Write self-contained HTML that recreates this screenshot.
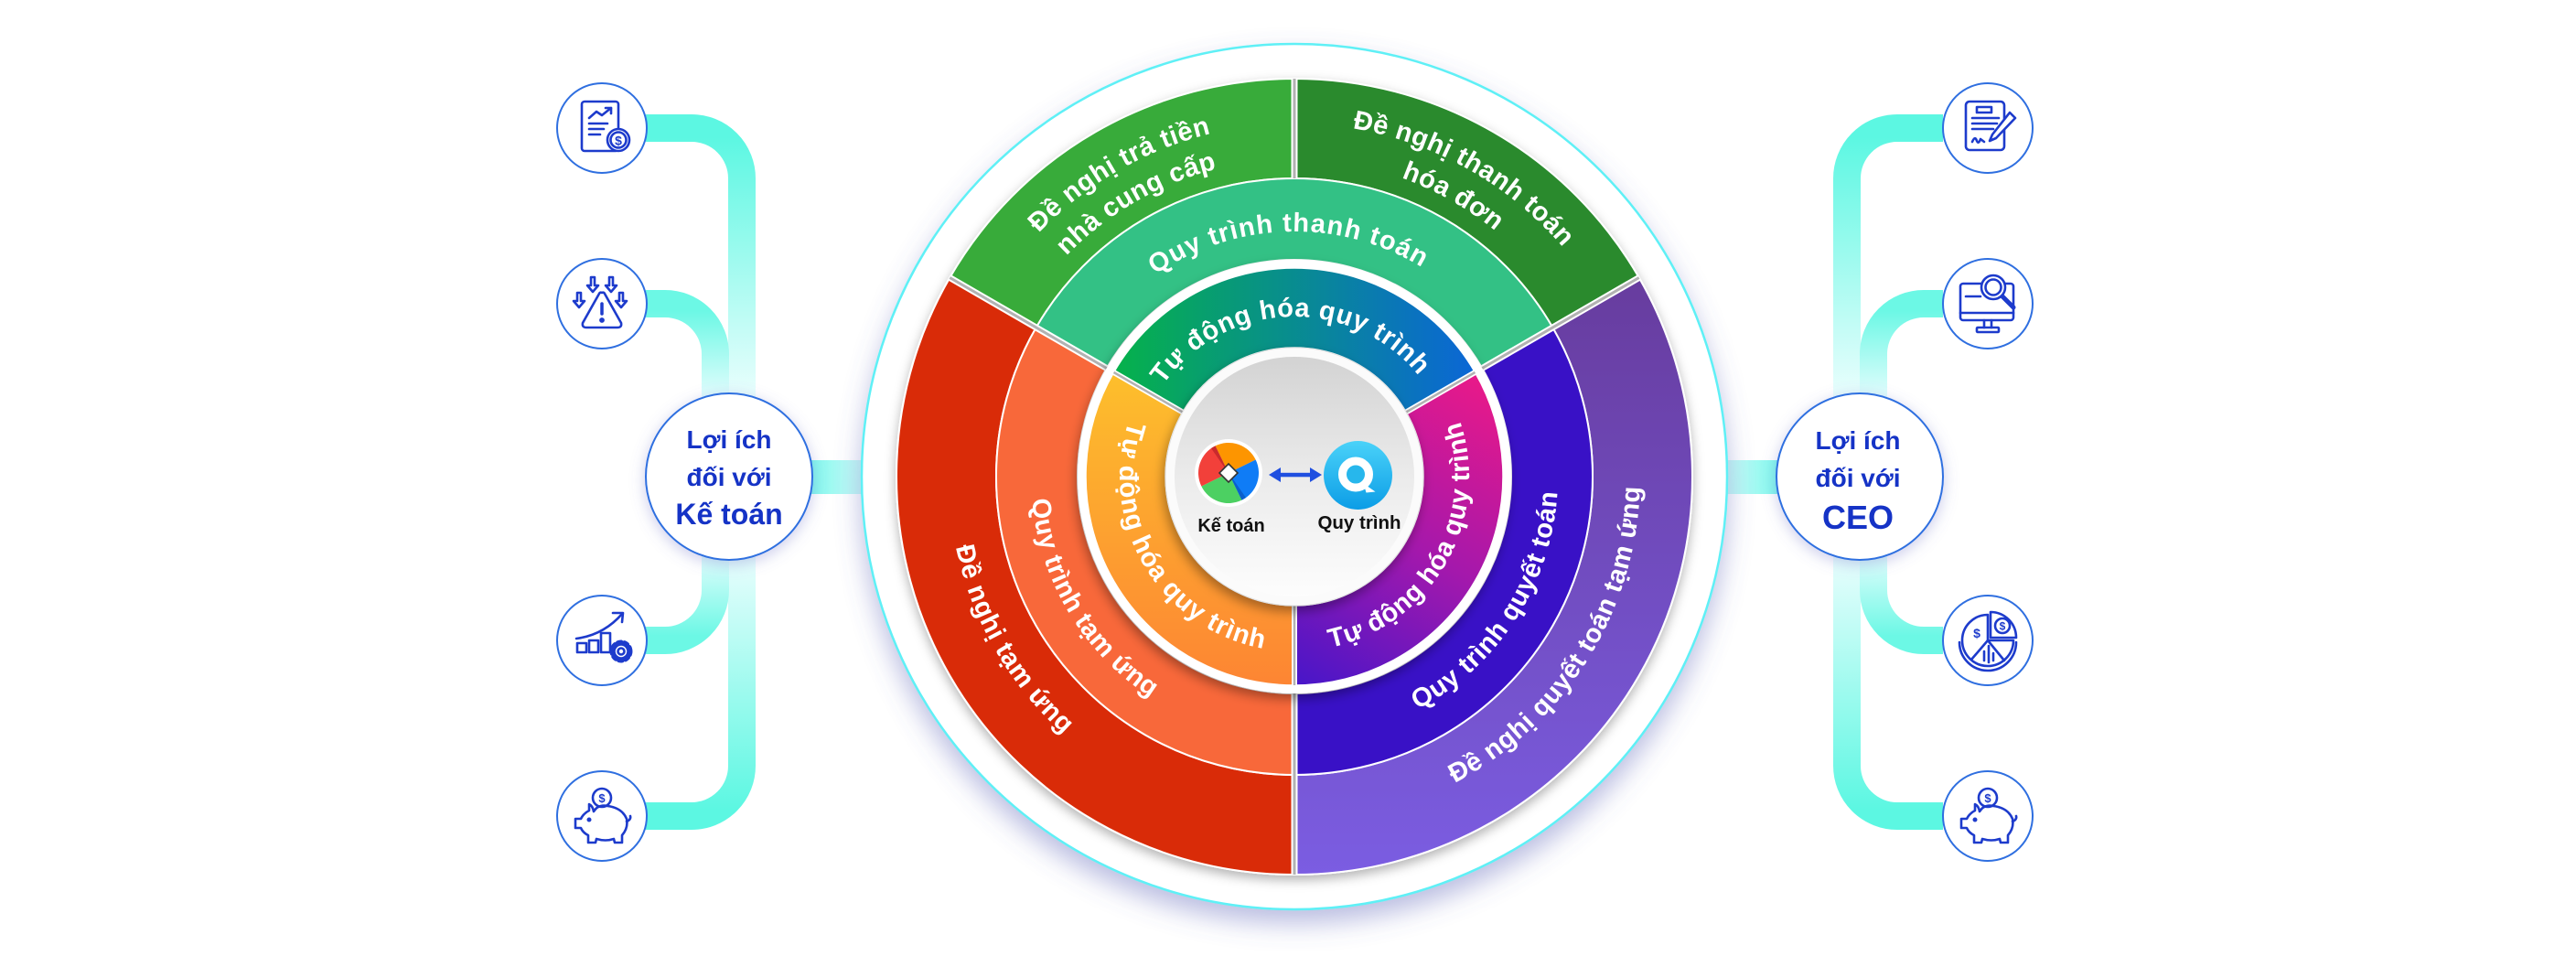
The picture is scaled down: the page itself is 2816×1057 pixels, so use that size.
<!DOCTYPE html>
<html>
<head>
<meta charset="utf-8">
<style>
  html,body{margin:0;padding:0;background:#fff;}
  svg{display:block;}
  .rt{font-family:"Liberation Sans",sans-serif;font-weight:bold;font-size:29px;fill:#fff;}
  .hub1{font-family:"Liberation Sans",sans-serif;font-weight:bold;font-size:28px;fill:#1533c6;text-anchor:middle;}
  .hub2{font-family:"Liberation Sans",sans-serif;font-weight:bold;font-size:32px;fill:#1533c6;text-anchor:middle;}
  .hub3{font-family:"Liberation Sans",sans-serif;font-weight:bold;font-size:36px;fill:#1533c6;text-anchor:middle;}
  .lbl{font-family:"Liberation Sans",sans-serif;font-weight:bold;font-size:20px;fill:#111;text-anchor:middle;}
  .ic{fill:none;stroke:#1d3bcc;stroke-width:2.6;stroke-linecap:round;stroke-linejoin:round;}
  .dol{font-family:"Liberation Sans",sans-serif;font-weight:bold;fill:#1d3bcc;text-anchor:middle;}
</style>
</head>
<body>
<svg width="2816" height="1057" viewBox="0 0 2816 1057" xmlns="http://www.w3.org/2000/svg">
<defs>
  <filter id="shBase" x="-20%" y="-20%" width="140%" height="150%">
    <feDropShadow dx="0" dy="14" stdDeviation="14" flood-color="#5a62b8" flood-opacity="0.42"/>
  </filter>
  <filter id="shRing" x="-20%" y="-20%" width="140%" height="140%">
    <feDropShadow dx="0" dy="5" stdDeviation="6" flood-color="#000" flood-opacity="0.3"/>
  </filter>
  <filter id="shInner" x="-20%" y="-20%" width="140%" height="140%">
    <feDropShadow dx="-2" dy="6" stdDeviation="6" flood-color="#000" flood-opacity="0.35"/>
  </filter>
  <filter id="shHub" x="-30%" y="-30%" width="160%" height="160%">
    <feDropShadow dx="0" dy="4" stdDeviation="8" flood-color="#6a70c8" flood-opacity="0.35"/>
  </filter>

  <linearGradient id="gOutR" gradientUnits="userSpaceOnUse" x1="0" y1="303" x2="0" y2="956">
    <stop offset="0" stop-color="#673c9e"/><stop offset="1" stop-color="#7b5de2"/>
  </linearGradient>
  <linearGradient id="gInT" gradientUnits="userSpaceOnUse" x1="1217" y1="0" x2="1612" y2="0">
    <stop offset="0" stop-color="#06b24a"/><stop offset="1" stop-color="#0b66d6"/>
  </linearGradient>
  <linearGradient id="gInL" gradientUnits="userSpaceOnUse" x1="0" y1="407" x2="0" y2="749">
    <stop offset="0" stop-color="#fdbf2c"/><stop offset="1" stop-color="#fd8533"/>
  </linearGradient>
  <linearGradient id="gInR" gradientUnits="userSpaceOnUse" x1="1605" y1="415" x2="1420" y2="745">
    <stop offset="0" stop-color="#e6198a"/><stop offset="0.5" stop-color="#a418ac"/><stop offset="1" stop-color="#4a16c8"/>
  </linearGradient>
  <linearGradient id="gDisc" x1="0" y1="0" x2="0" y2="1">
    <stop offset="0" stop-color="#d3d3d3"/><stop offset="0.5" stop-color="#ebebeb"/><stop offset="1" stop-color="#fdfdfd"/>
  </linearGradient>
  <linearGradient id="gQ" x1="0" y1="0" x2="0" y2="1">
    <stop offset="0" stop-color="#4ad2f9"/><stop offset="1" stop-color="#0c9de6"/>
  </linearGradient>

  <linearGradient id="gAT" gradientUnits="userSpaceOnUse" x1="0" y1="150" x2="0" y2="435">
    <stop offset="0" stop-color="#5cf7e2"/><stop offset="1" stop-color="#eafefd"/>
  </linearGradient>
  <linearGradient id="gAB" gradientUnits="userSpaceOnUse" x1="0" y1="605" x2="0" y2="885">
    <stop offset="0" stop-color="#eafefd"/><stop offset="1" stop-color="#5cf7e2"/>
  </linearGradient>
  <linearGradient id="gBT" gradientUnits="userSpaceOnUse" x1="0" y1="340" x2="0" y2="435">
    <stop offset="0" stop-color="#6cf8e5"/><stop offset="1" stop-color="#e4fdfd"/>
  </linearGradient>
  <linearGradient id="gBB" gradientUnits="userSpaceOnUse" x1="0" y1="605" x2="0" y2="695">
    <stop offset="0" stop-color="#e4fdfd"/><stop offset="1" stop-color="#6cf8e5"/>
  </linearGradient>
  <linearGradient id="gHL" gradientUnits="userSpaceOnUse" x1="885" y1="0" x2="950" y2="0">
    <stop offset="0" stop-color="#7ef8ec"/><stop offset="1" stop-color="#d8fcfa"/>
  </linearGradient>
  <linearGradient id="gHR" gradientUnits="userSpaceOnUse" x1="1945" y1="0" x2="1880" y2="0">
    <stop offset="0" stop-color="#7ef8ec"/><stop offset="1" stop-color="#d8fcfa"/>
  </linearGradient>

  <path id="tp386" d="M -384.53 -33.64 A 386 386 0 0 1 384.53 -33.64"/>
  <path id="tp347" d="M -345.68 -30.24 A 347 347 0 0 1 345.68 -30.24"/>
  <path id="tp268" d="M -266.98 -23.36 A 268 268 0 0 1 266.98 -23.36"/>
  <path id="tp175" d="M -174.33 -15.25 A 175 175 0 0 1 174.33 -15.25"/>
  <path id="bp378" d="M -376.56 32.95 A 378 378 0 0 0 376.56 32.95"/>
  <path id="bp288" d="M -286.90 25.10 A 288 288 0 0 0 286.90 25.10"/>
  <path id="bp191" d="M -190.27 16.65 A 191 191 0 0 0 190.27 16.65"/>

  <g id="pig">
    <circle cx="0" cy="-23" r="10" fill="#fff"/>
    <path d="M-9,-8 Q-4,-16 6,-14 Q22,-12 27,0 Q29,10 22,18 L22,26 L14,26 L13,22 Q4,25 -6,22 L-7,26 L-15,26 L-15,18 Q-21,15 -23,10 L-29,10 L-29,0 L-23,0 Q-20,-6 -14,-9 L-14,-16 Q-10,-14 -9,-8 Z"/>
    <circle cx="-14" cy="1" r="1.2" fill="#1d3bcc"/>
    <path d="M27,3 Q32,1 31,-3"/>
  </g>
</defs>

<!-- CONNECTORS -->
<g fill="none" stroke-width="30">
  <path d="M 706,140 L 756,140 A 55 55 0 0 1 811,195 L 811,460" stroke="url(#gAT)"/>
  <path d="M 811,580 L 811,837 A 55 55 0 0 1 756,892 L 706,892" stroke="url(#gAB)"/>
  <path d="M 706,332 L 727,332 A 55 55 0 0 1 782,387 L 782,460" stroke="url(#gBT)"/>
  <path d="M 782,580 L 782,645 A 55 55 0 0 1 727,700 L 706,700" stroke="url(#gBB)"/>
  <path d="M 2124,140 L 2074,140 A 55 55 0 0 0 2019,195 L 2019,460" stroke="url(#gAT)"/>
  <path d="M 2019,580 L 2019,837 A 55 55 0 0 0 2074,892 L 2124,892" stroke="url(#gAB)"/>
  <path d="M 2124,332 L 2103,332 A 55 55 0 0 0 2048,387 L 2048,460" stroke="url(#gBT)"/>
  <path d="M 2048,580 L 2048,645 A 55 55 0 0 0 2103,700 L 2124,700" stroke="url(#gBB)"/>
</g>
<rect x="870" y="503" width="100" height="37" fill="url(#gHL)"/>
<rect x="1860" y="503" width="100" height="37" fill="url(#gHR)"/>

<!-- BASE CIRCLE -->
<circle cx="1415" cy="521" r="473" fill="#fff" stroke="#5ef0f6" stroke-width="2.5" filter="url(#shBase)"/>

<!-- OUTER + MIDDLE RINGS -->
<circle cx="1415" cy="521" r="436" fill="#fff" filter="url(#shRing)"/>
<g stroke="#fff" stroke-width="2">
  <path d="M 1415,86 A 435 435 0 0 0 1038.28,303.5 L 1132.67,358 A 326 326 0 0 1 1415,195 Z" fill="#38ab3a"/>
  <path d="M 1791.72,303.5 A 435 435 0 0 0 1415,86 L 1415,195 A 326 326 0 0 1 1697.33,358 Z" fill="#2a8a2d"/>
  <path d="M 1415,956 A 435 435 0 0 0 1791.72,303.5 L 1697.33,358 A 326 326 0 0 1 1415,847 Z" fill="url(#gOutR)"/>
  <path d="M 1038.28,303.5 A 435 435 0 0 0 1415,956 L 1415,847 A 326 326 0 0 1 1132.67,358 Z" fill="#d92b08"/>
  <path d="M 1697.33,358 A 326 326 0 0 0 1132.67,358 L 1209.75,402.5 A 237 237 0 0 1 1620.25,402.5 Z" fill="#33c185"/>
  <path d="M 1415,847 A 326 326 0 0 0 1697.33,358 L 1620.25,402.5 A 237 237 0 0 1 1415,758 Z" fill="#3911c6"/>
  <path d="M 1132.67,358 A 326 326 0 0 0 1415,847 L 1415,758 A 237 237 0 0 1 1209.75,402.5 Z" fill="#f8683a"/>
</g>
<g stroke-linecap="butt">
  <g stroke="#fff" stroke-width="7">
    <line x1="1415" y1="86" x2="1415" y2="195"/>
    <line x1="1791.72" y1="303.5" x2="1620.25" y2="402.5"/>
    <line x1="1038.28" y1="303.5" x2="1209.75" y2="402.5"/>
    <line x1="1415" y1="956" x2="1415" y2="758"/>
  </g>
  <g stroke="#b2b2b2" stroke-width="3">
    <line x1="1415" y1="86" x2="1415" y2="195"/>
    <line x1="1791.72" y1="303.5" x2="1620.25" y2="402.5"/>
    <line x1="1038.28" y1="303.5" x2="1209.75" y2="402.5"/>
    <line x1="1415" y1="956" x2="1415" y2="758"/>
  </g>
</g>

<!-- outer ring texts -->
<g transform="translate(1415 521) rotate(-30)">
  <text class="rt" letter-spacing="0.6"><textPath href="#tp386" startOffset="50%" text-anchor="middle">Đề nghị trả tiền</textPath></text>
  <text class="rt" letter-spacing="0.5"><textPath href="#tp347" startOffset="50%" text-anchor="middle">nhà cung cấp</textPath></text>
</g>
<g transform="translate(1415 521) rotate(29.5)">
  <text class="rt" letter-spacing="0.4"><textPath href="#tp386" startOffset="50%" text-anchor="middle">Đề nghị thanh toán</textPath></text>
  <text class="rt" letter-spacing="0.5"><textPath href="#tp347" startOffset="50%" text-anchor="middle">hóa đơn</textPath></text>
</g>
<g transform="translate(1415 521) rotate(-58)">
  <text class="rt" letter-spacing="0.6"><textPath href="#bp378" startOffset="50%" text-anchor="middle">Đề nghị quyết toán tạm ứng</textPath></text>
</g>
<g transform="translate(1415 521) rotate(60)">
  <text class="rt" letter-spacing="0.7"><textPath href="#bp378" startOffset="50%" text-anchor="middle">Đề nghị tạm ứng</textPath></text>
</g>

<!-- middle ring texts -->
<g transform="translate(1415 521) rotate(-1.5)">
  <text class="rt" letter-spacing="1.2"><textPath href="#tp268" startOffset="50%" text-anchor="middle">Quy trình thanh toán</textPath></text>
</g>
<g transform="translate(1415 521) rotate(-57.3)">
  <text class="rt" letter-spacing="0.6"><textPath href="#bp288" startOffset="50%" text-anchor="middle">Quy trình quyết toán</textPath></text>
</g>
<g transform="translate(1415 521) rotate(59)">
  <text class="rt" letter-spacing="0.5"><textPath href="#bp288" startOffset="50%" text-anchor="middle">Quy trình tạm ứng</textPath></text>
</g>

<!-- INNER RING -->
<circle cx="1415" cy="521" r="237" fill="#fff" filter="url(#shInner)"/>
<g stroke="#fff" stroke-width="1.5">
  <path d="M 1612.45,407 A 228 228 0 0 0 1217.55,407 L 1292.89,450.5 A 141 141 0 0 1 1537.11,450.5 Z" fill="url(#gInT)"/>
  <path d="M 1415,749 A 228 228 0 0 0 1612.45,407 L 1537.11,450.5 A 141 141 0 0 1 1415,662 Z" fill="url(#gInR)"/>
  <path d="M 1217.55,407 A 228 228 0 0 0 1415,749 L 1415,662 A 141 141 0 0 1 1292.89,450.5 Z" fill="url(#gInL)"/>
</g>
<g>
  <g stroke="#fff" stroke-width="6">
    <line x1="1612.45" y1="407" x2="1537.11" y2="450.5"/>
    <line x1="1217.55" y1="407" x2="1292.89" y2="450.5"/>
    <line x1="1415" y1="749" x2="1415" y2="662"/>
  </g>
  <g stroke="#b2b2b2" stroke-width="2.5">
    <line x1="1612.45" y1="407" x2="1537.11" y2="450.5"/>
    <line x1="1217.55" y1="407" x2="1292.89" y2="450.5"/>
    <line x1="1415" y1="749" x2="1415" y2="662"/>
  </g>
</g>

<g transform="translate(1415 521) rotate(-2)">
  <text class="rt" letter-spacing="0.7"><textPath href="#tp175" startOffset="50%" text-anchor="middle">Tự động hóa quy trình</textPath></text>
</g>
<g transform="translate(1415 521) rotate(-60.3)">
  <text class="rt" letter-spacing="0.6"><textPath href="#bp191" startOffset="50%" text-anchor="middle">Tự động hóa quy trình</textPath></text>
</g>
<g transform="translate(1415 521) rotate(59.3)">
  <text class="rt" letter-spacing="0.9"><textPath href="#bp191" startOffset="50%" text-anchor="middle">Tự động hóa quy trình</textPath></text>
</g>

<!-- CENTER DISC -->
<circle cx="1415" cy="521" r="141" fill="#fbfbfb" stroke="#e2e2e2" stroke-width="1" filter="url(#shInner)"/>
<circle cx="1415" cy="521" r="131" fill="url(#gDisc)"/>

<g transform="translate(1343 517)">
  <circle r="37" fill="#fff"/>
  <path d="M0,0 L -14.47,-29.66 A 33 33 0 0 1 29.66,-14.47 Z" fill="#fd9500"/>
  <path d="M0,0 L 29.66,-14.47 A 33 33 0 0 1 14.47,29.66 Z" fill="#0f7cf6"/>
  <path d="M0,0 L 14.47,29.66 A 33 33 0 0 1 -29.66,14.47 Z" fill="#4cd062"/>
  <path d="M0,0 L -29.66,14.47 A 33 33 0 0 1 -14.47,-29.66 Z" fill="#f2403a"/>
  <path d="M0,0 L -14.47,-29.66 L -19,-27 L -3,-4 Z" fill="#c92a2d"/>
  <path d="M0,0 L 14.47,29.66 L 19,27 L 3,4 Z" fill="#0a5fcc"/>
  <path d="M0,-10 L10,0 L0,10 L-10,0 Z" fill="#fff" stroke="#333" stroke-width="1.6"/>
</g>
<g fill="#1f4fe0">
  <rect x="1397" y="516.8" width="38" height="4.5"/>
  <polygon points="1387,519 1400,511 1400,527"/>
  <polygon points="1445,519 1432,511 1432,527"/>
</g>
<g transform="translate(1484.5 519.5)">
  <circle r="37.5" fill="url(#gQ)"/>
  <circle cx="-2.5" cy="-1" r="10" fill="#27b7ec"/>
  <circle cx="-2.5" cy="-1" r="14.5" fill="none" stroke="#fff" stroke-width="9"/>
  <path d="M6,9 L19,18 L9,19 Z" fill="#fff"/>
</g>
<text class="lbl" x="1346" y="581">Kế toán</text>
<text class="lbl" x="1486" y="578" style="font-size:20.5px">Quy trình</text>

<!-- HUBS -->
<circle cx="797" cy="521" r="91" fill="#fff" stroke="#2f6fe0" stroke-width="2" filter="url(#shHub)"/>
<text class="hub1" x="797" y="490">Lợi ích</text>
<text class="hub1" x="797" y="531">đối với</text>
<text class="hub2" x="797" y="573">Kế toán</text>

<circle cx="2033" cy="521" r="91" fill="#fff" stroke="#2f6fe0" stroke-width="2" filter="url(#shHub)"/>
<text class="hub1" x="2031" y="491">Lợi ích</text>
<text class="hub1" x="2031" y="532">đối với</text>
<text class="hub3" x="2031" y="578">CEO</text>

<!-- ICON CIRCLES -->
<g fill="#fff" stroke="#2f6fe0" stroke-width="2">
  <circle cx="658" cy="140" r="49"/>
  <circle cx="658" cy="332" r="49"/>
  <circle cx="658" cy="700" r="49"/>
  <circle cx="658" cy="892" r="49"/>
  <circle cx="2173" cy="140" r="49"/>
  <circle cx="2173" cy="332" r="49"/>
  <circle cx="2173" cy="700" r="49"/>
  <circle cx="2173" cy="892" r="49"/>
</g>

<g class="ic" transform="translate(658 140)">
  <rect x="-22" y="-29" width="40" height="54" rx="3"/>
  <polyline points="-14,-11 -6,-18 0,-14 10,-22"/>
  <polyline points="4,-22 10,-22 10,-16"/>
  <path d="M-14,-5 H6 M-14,1 H2 M-14,7 H-2"/>
  <circle cx="18" cy="13" r="12" fill="#fff"/>
  <circle cx="18" cy="13" r="8.5"/>
  <text class="dol" x="18" y="18.5" style="font-size:14px;stroke:none">$</text>
</g>

<g class="ic" transform="translate(658 332)">
  <path d="M0,-12 Q2,-13 3,-11 L21,21 Q22,26 17,26 L-17,26 Q-22,26 -21,21 L-3,-11 Q-2,-13 0,-12 Z"/>
  <path d="M0,0 V11" stroke-width="3.5"/>
  <circle cx="0" cy="18" r="1.6" fill="#1d3bcc"/>
  <path d="M-27,-12 V-3 H-31 L-25,4 L-19,-3 H-23 V-12 Z"/>
  <path d="M19,-12 V-3 H15 L21,4 L27,-3 H23 V-12 Z"/>
  <path d="M-12,-29 V-20 H-16 L-10,-13 L-4,-20 H-8 V-29 Z"/>
  <path d="M8,-29 V-20 H4 L10,-13 L16,-20 H12 V-29 Z"/>
</g>

<g class="ic" transform="translate(658 700)">
  <rect x="-27" y="3" width="10" height="10"/>
  <rect x="-14" y="0" width="10" height="13"/>
  <rect x="-1" y="-8" width="10" height="21"/>
  <path d="M-28,-2 Q2,-6 22,-29"/>
  <polyline points="12,-30 23,-30 22,-20"/>
  <circle cx="21" cy="12" r="10" fill="#fff" stroke-width="5" stroke-dasharray="3.6 3.6"/>
  <circle cx="21" cy="12" r="7.5" fill="#fff"/>
  <circle cx="21" cy="12" r="3.5"/>
</g>

<g class="ic" transform="translate(658 895)">
  <use href="#pig"/>
  <text class="dol" x="0" y="-18" style="font-size:13px;stroke:none">$</text>
</g>

<g class="ic" transform="translate(2173 140)">
  <rect x="-24" y="-29" width="42" height="53" rx="4"/>
  <rect x="-12" y="-23" width="16" height="6"/>
  <path d="M-17,-11 H12 M-17,-5 H10 M-17,1 H6"/>
  <path d="M-17,15 Q-14,8 -12,14 Q-10,18 -8,12 L-4,15"/>
  <path d="M24,-17 L30,-11 L9,11 L2,14 L5,7 Z" fill="#fff"/>
</g>

<g class="ic" transform="translate(2173 332)">
  <rect x="-30" y="-22" width="58" height="40" rx="3"/>
  <path d="M-30,10 H28"/>
  <path d="M-4,18 V26 M4,18 V26"/>
  <rect x="-12" y="26" width="24" height="5" rx="1"/>
  <path d="M-24,-8 H-8"/>
  <path d="M15,-9 L28,4" stroke-width="5"/>
  <circle cx="6" cy="-18" r="13" fill="#fff"/>
  <circle cx="6" cy="-18" r="8.5"/>
</g>

<g class="ic" transform="translate(2173 700)">
  <path d="M-31,2 A31 31 0 0 0 31,2"/>
  <path d="M0,-28 A28 28 0 1 0 28,0 L0,0 Z"/>
  <path d="M3,-31 A28 28 0 0 1 31,-3 L3,-3 Z"/>
  <path d="M0,0 L-18,21 M0,0 L18,22"/>
  <path d="M-4,22 V12 M1,24 V6 M6,22 V14"/>
  <text class="dol" x="-12" y="-3" style="font-size:14px;stroke:none">$</text>
  <circle cx="16" cy="-16" r="8"/>
  <text class="dol" x="16" y="-11.5" style="font-size:12px;stroke:none">$</text>
</g>

<g class="ic" transform="translate(2173 895)">
  <use href="#pig"/>
  <text class="dol" x="0" y="-18" style="font-size:13px;stroke:none">$</text>
</g>

</svg>
</body>
</html>
